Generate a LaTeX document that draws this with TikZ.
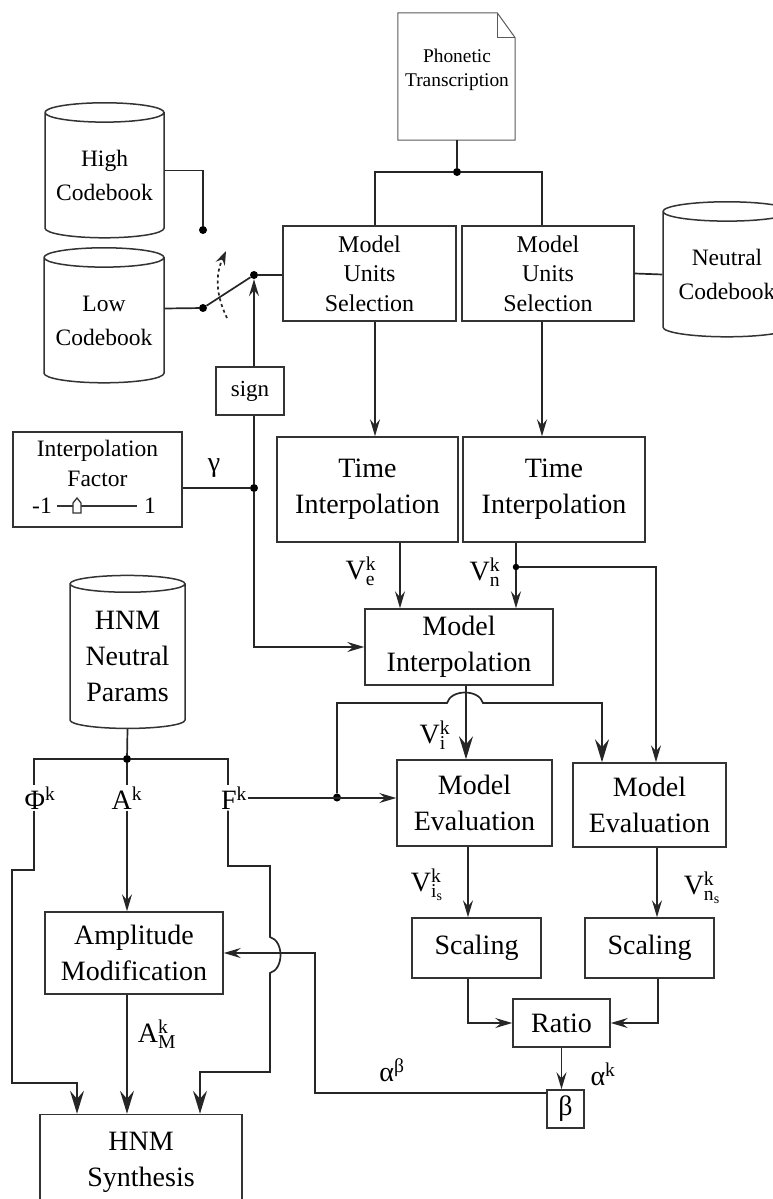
\documentclass[tikz,border=0pt]{standalone}
\usepackage{fontspec}
\setmainfont{Liberation Serif}
\usetikzlibrary{shapes.geometric,arrows.meta,calc}

\begin{document}
\begin{tikzpicture}[x=1pt,y=-1pt]
\useasboundingbox (0,0) rectangle (773,1199);
%styles des noeuds
\tikzstyle{block}=[rectangle, draw=black!80, line width=1.5pt, align=center, inner sep=0pt, font=\fontsize{28}{36}\selectfont]
\tikzstyle{unitbox}=[block, font=\fontsize{24}{29.5}\selectfont]
\tikzstyle{codebook}=[cylinder, shape border rotate=90, draw=black!80, line width=1.5pt, aspect=0.2, align=center, inner sep=0pt, font=\fontsize{23.5}{34}\selectfont]
\tikzstyle{textw}=[rectangle, align=center, inner sep=1pt, font=\fontsize{28}{36}\selectfont]
\tikzstyle{textsmall}=[rectangle, align=center, inner sep=1pt, font=\fontsize{23.5}{30}\selectfont]
\tikzstyle{textPhon}=[rectangle, align=center, inner sep=1pt, font=\fontsize{19.4}{24}\selectfont]
\tikzstyle{point}=[circle, fill=black, inner sep=0pt, minimum size=8pt]
%figure
\node[rectangle, minimum width=117, minimum height=127] (doc) at (456.5,76.5) {};
\draw[black!65, line width=1pt] (doc.south west) -- (doc.north west) -- ($(doc.north east)+(-18,0)$) -- ($(doc.north east)+(0,25)$) -- (doc.south east) -- cycle;
\draw[black!65, line width=1pt] ($(doc.north east)+(-18,0)$) -- ($(doc.north east)+(-18,25)$) -- ($(doc.north east)+(0,25)$);
\node[textPhon] (phon) at (457,70) {Phonetic\\Transcription};

\node[codebook, minimum width=119, minimum height=135] (high) at (104.5,175.5) {High\\Codebook};
\node[codebook, minimum width=120, minimum height=135] (low) at (104,320.5) {Low\\Codebook};
\node[codebook, minimum width=128, minimum height=135] (neutral) at (727,274.5) {Neutral\\Codebook};
\node[codebook, minimum width=115, minimum height=153, font=\fontsize{28}{36}\selectfont] (hnm) at (127.5,656.5) {HNM\\Neutral\\Params};

\node[unitbox, minimum width=173, minimum height=95] (mus1) at (369.5,273.5) {Model\\Units\\Selection};
\node[unitbox, minimum width=172, minimum height=95] (mus2) at (548,273.5) {Model\\Units\\Selection};
\node[block, minimum width=68, minimum height=48, font=\fontsize{23}{28}\selectfont] (sign) at (250,391) {sign};
\node[block, minimum width=169, minimum height=95] (ifac) at (97.5,479.5) {};
\node[block, minimum width=181, minimum height=105] (ti1) at (367.5,489.5) {Time\\Interpolation};
\node[block, minimum width=182, minimum height=105] (ti2) at (554,489.5) {Time\\Interpolation};
\node[block, minimum width=188, minimum height=76] (mi) at (459,647) {Model\\Interpolation};
\node[block, minimum width=155, minimum height=86] (me1) at (474.5,803) {Model\\Evaluation};
\node[block, minimum width=153, minimum height=84] (me2) at (649.5,805) {Model\\Evaluation};
\node[block, minimum width=129, minimum height=60] (sc1) at (476.5,948) {Scaling};
\node[block, minimum width=129, minimum height=60] (sc2) at (649.5,948) {Scaling};
\node[block, minimum width=97, minimum height=48] (ratio) at (561.5,1023) {Ratio};
\node[block, minimum width=37, minimum height=38] (beta) at (565.5,1109) {β};
\node[block, minimum width=178, minimum height=82] (am) at (134,953) {Amplitude\\Modification};
\node[block, minimum width=202, minimum height=95] (synth) at (141,1162) {HNM\\Synthesis};

\node[point] (sw1) at (203,230) {};
\node[point] (sw2) at (203,308) {};
\node[point] (sw0) at (254,275) {};
\node[point] (j1) at (457,172) {};
\node[point] (j2) at (254,488) {};
\node[point, minimum size=6.5pt] (j3) at (516,567) {};
\node[point] (j4) at (337,797.5) {};
\node[point] (j5) at (127,759) {};
\coordinate (dash1) at (227,318);
\coordinate (dash2) at (226,251);

%text
\node[textsmall] (iftext) at (97.5,463) {Interpolation\\Factor};
\node[textsmall] (mone) at (42,506) {-1};
\node[textsmall] (one) at (150,506) {1};
\node[textw] (gamma) at (214,468) {γ};
\node[textw] (ve) at (361,571) {$\mathrm{V}^{\mathrm{k}}_{\mathrm{e}}$};
\node[textw] (vn) at (485,572) {$\mathrm{V}^{\mathrm{k}}_{\mathrm{n}}$};
\node[textw] (vi) at (435,735) {$\mathrm{V}^{\mathrm{k}}_{\mathrm{i}}$};
\node[textw] (vis) at (427,885) {$\mathrm{V}^{\mathrm{k}}_{\mathrm{i}_{\mathrm{s}}}$};
\node[textw] (vns) at (702,888) {$\mathrm{V}^{\mathrm{k}}_{\mathrm{n}_{\mathrm{s}}}$};
\node[textw] (alphak) at (603,1074) {α$^{\mathrm{k}}$};
\node[textw] (alphab) at (392,1070) {α\textsuperscript{β}};
\node[textw] (amk) at (157,1034) {$\mathrm{A}^{\mathrm{k}}_{\mathrm{M}}$};
\node[textw] (phik) at (40,798) {Φ$^{\mathrm{k}}$};
\node[textw] (ak) at (127,798) {A$^{\mathrm{k}}$};
\node[textw] (fk) at (234,798) {F$^{\mathrm{k}}$};

%slider
\draw[black!80, line width=1.3pt] ($(mone.east)+(4,0)$) -- ($(one.west)+(-6,0)$);
\draw[black!80, line width=1.3pt, fill=white] (73,513) -- (73,503) -- (77,498) -- (81,503) -- (81,513) -- cycle;

%vecteur
\tikzstyle{wire}=[black!85, line width=1.7pt]
\tikzstyle{vector}=[wire, -{Stealth[length=17pt, width=10pt, inset=6pt]}]
\tikzstyle{vectorbig}=[wire, -{Stealth[length=23pt, width=14pt, inset=8pt]}]
\draw[wire] (doc.south -| j1) -- (j1);
\draw[wire] (j1) -| ([xshift=5.5]mus1.north);
\draw[wire] (j1) -| ([xshift=-6]mus2.north);
\draw[wire] ([yshift=5]high.east) -| (sw1);
\draw[wire] ([yshift=12]low.east) -- (sw2);
\draw[wire] (sw2) -- (sw0);
\draw[wire] (sw0) -- (mus1.west |- sw0);
\draw[wire, dashed, -{Stealth[length=14pt, width=10pt, inset=5pt]}] (dash1) to[bend left=25] (dash2);
\draw[vector] (sign.north -| sw0) -- (sw0);
\draw[wire] (mus2.east) -- (neutral.west);
\draw[vector] ([xshift=5.5]mus1.south) -- ([xshift=5.5]mus1.south |- ti1.north);
\draw[vector] ([xshift=-6]mus2.south) -- ([xshift=-6]mus2.south |- ti2.north);
\draw[wire] ([yshift=-8.5]ifac.east) -- (j2);
\draw[wire] (sign.south -| j2) -- (j2);
\draw[vector] (j2) |- (mi.west);
\draw[vector] ([xshift=32.5]ti1.south) -- ([xshift=32.5]ti1.south |- mi.north);
\draw[wire] ([xshift=-38]ti2.south) -- (j3);
\draw[vector] (j3) -- ([xshift=-38]ti2.south |- mi.north);
\draw[vector] (j3) -| ([xshift=6.5]me2.north);
\draw[vectorbig] ([xshift=7]mi.south) -- ([xshift=7]mi.south |- me1.north);
\draw[vectorbig] (j4) -- (337,703) -- (447,703) .. controls (451,689) and (479,689) .. (483,703) -| ([xshift=-47.5]me2.north);
\draw[vector] (fk.east) -- (me1.west |- fk.east);
\draw[vector] ([xshift=-6.5]me1.south) -- ([xshift=-6.5]me1.south |- sc1.north);
\draw[vector] ([xshift=7.5]me2.south) -- ([xshift=7.5]me2.south |- sc2.north);
\draw[vector] ([xshift=-8.5]sc1.south) |- (ratio.west);
\draw[vector] ([xshift=8.5]sc2.south) |- (ratio.east);
\draw[vector] (ratio.south) -- (ratio.south |- beta.north);
\draw[vector] ([yshift=16]beta.west) -| (315,953) -- (am.east);
\draw[wire] (hnm.south) -- (j5);
\draw[wire] ([xshift=-6]phik.north) |- (j5) -| ([xshift=-6]fk.north);
\draw[wire] (j5) -- (ak.north -| j5);
\draw[vector] (ak.south) -- (ak.south |- am.north);
\draw[vectorbig] (am.south -| ak.south) -- (ak.south |- synth.north);
\draw[vectorbig] ([xshift=-6]phik.south) |- (12,870) |- (77,1083) -- ([xshift=-64]synth.north);
\draw[vectorbig] ([xshift=-6]fk.south) |- (270,866) -- (270,937) .. controls (284,941) and (284,969) .. (270,973) |- (200,1072) -- ([xshift=59]synth.north);
\end{tikzpicture}
\end{document}
